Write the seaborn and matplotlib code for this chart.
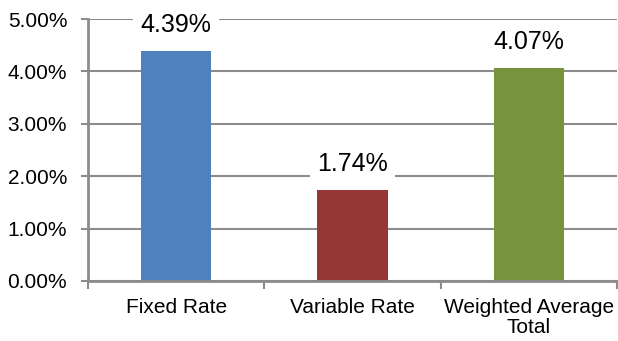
import matplotlib
matplotlib.use("Agg")
import matplotlib.pyplot as plt
import seaborn as sns
import pandas as pd
from matplotlib.ticker import FixedLocator, FuncFormatter

categories = ["Fixed Rate", "Variable Rate", "Weighted Average\nTotal"]
rates = [4.39, 1.74, 4.07]
bar_colors = ["#4F81BD", "#953735", "#77933C"]
y_ticks = [0, 1, 2, 3, 4, 5]

sns.set_theme(style="white")
plt.rcParams["font.family"] = ["Liberation Sans", "DejaVu Sans"]

df = pd.DataFrame({"category": categories, "rate": rates})

fig = plt.figure(figsize=(6.18, 3.41), dpi=100)
ax = fig.add_axes([0.1424, 0.176, 0.856, 0.768])

sns.barplot(data=df, x="category", y="rate", hue="category", palette=bar_colors,
            saturation=1, width=0.4, linewidth=0, legend=False, ax=ax, zorder=3)

grid_color = "#8C8C8C"
ax.set_ylim(0, 5)
ax.set_xlim(-0.5, 2.5)
ax.set_yticks(y_ticks)
ax.yaxis.set_major_formatter(FuncFormatter(lambda v, p: f"{v:.2f}%"))
ax.grid(axis="y", color=grid_color, linewidth=1.5, zorder=0)
ax.set_axisbelow(True)

# category boundaries carry the tick marks; labels sit at the bar centres
ax.xaxis.set_minor_locator(FixedLocator([-0.5, 0.5, 1.5, 2.5]))
ax.tick_params(axis="x", which="major", length=0, pad=12, labelsize=15, colors="black")
ax.tick_params(axis="x", which="minor", length=6, width=1.5, color=grid_color, direction="out", bottom=True)
ax.tick_params(axis="y", which="major", length=5, width=1.5, color=grid_color, pad=10,
               labelsize=15, labelcolor="black", direction="out", left=True)
for lbl in ax.get_xticklabels():
    lbl.set_linespacing(1.1)
ax.set_xlabel("")
ax.set_ylabel("")

for side in ["top", "right"]:
    ax.spines[side].set_visible(False)
for side in ["left", "bottom"]:
    ax.spines[side].set_color(grid_color)
    ax.spines[side].set_linewidth(2)
    ax.spines[side].set_zorder(4)

for i, v in enumerate(rates):
    ax.annotate(f"{v:.2f}%", xy=(i, v), xytext=(0, 18.5), textcoords="offset points",
                ha="center", va="center", fontsize=18, color="black", zorder=5,
                bbox=dict(boxstyle="square,pad=0.3", facecolor="white", edgecolor="none"))

fig.savefig("out.png", dpi=100)
